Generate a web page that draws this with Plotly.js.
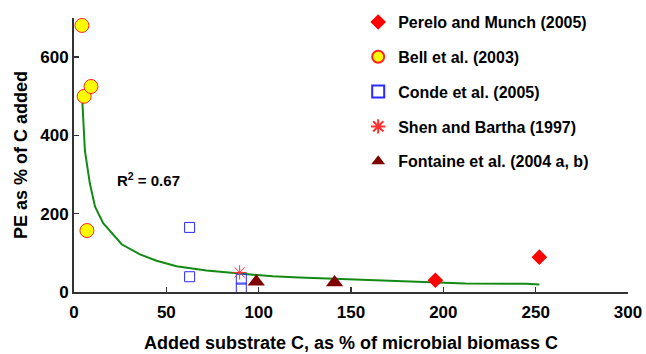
<!DOCTYPE html>
<html>
<head>
<meta charset="utf-8">
<script src="https://cdn.plot.ly/plotly-3.0.1.min.js"></script>
<style>html,body{margin:0;padding:0;background:#fff;}#chart{width:646px;height:354px;}</style>
</head>
<body>
<div id="chart"></div>
<script>
// Data
const pereloX = [195.7, 252];
const pereloY = [30, 89];
const bellX = [4.3, 5.5, 9.2, 7.0];
const bellY = [681, 500, 525, 157];
const condeX = [62.6, 62.6, 90.6, 90.6];
const condeY = [165, 39, 33, 10];
const shenX = [89.7];
const shenY = [50];
const fontaineX = [98.7, 141.1];
const fontaineY = [26, 24];
const fitX = [4.5, 5.9, 8.6, 11.4, 15.8, 25.8, 35.7, 44.7, 55.5, 71.7, 89.7, 107.7, 122, 149, 185, 212, 245, 252];
const fitY = [489, 361, 277, 218, 176, 122, 96, 80, 66, 55, 47, 40, 37, 32, 26, 22, 21, 19];
const xTicks = [0, 50, 100, 150, 200, 250, 300];
const yTicks = [0, 200, 400, 600];

const F = 'Liberation Sans, Arial, Helvetica, sans-serif';

const traces = [
  {x: fitX, y: fitY, mode: 'lines', line: {color: '#138a13', width: 2}, showlegend: false, hoverinfo: 'skip'},
  {x: pereloX, y: pereloY, mode: 'markers', name: 'Perelo and Munch (2005)', legendgroup: 'a',
   marker: {symbol: 'diamond', size: 12, color: '#ff0000'}},
  {x: bellX, y: bellY, mode: 'markers', name: 'Bell et al. (2003)', legendgroup: 'b',
   marker: {symbol: 'circle', size: 14, color: '#ffff00', line: {color: '#ff2020', width: 1}}},
  {x: condeX, y: condeY, mode: 'markers', name: 'Conde et al. (2005)', legendgroup: 'c',
   marker: {symbol: 'square-open', size: 10, color: '#2a2aff', line: {width: 1}}},
  {x: shenX, y: shenY, mode: 'markers', name: 'Shen and Bartha (1997)', legendgroup: 'd',
   marker: {symbol: 'asterisk-open', size: 12, color: '#ff3030', line: {color: '#ff3030', width: 1}}},
  {x: fontaineX, y: fontaineY, mode: 'markers', name: 'Fontaine et al. (2004 a, b)', legendgroup: 'e',
   marker: {symbol: 'triangle-up', size: 15, color: '#800000'}}
];

const layout = {
  width: 646, height: 354,
  margin: {l: 74, r: 18, t: 18, b: 62, autoexpand: false},
  paper_bgcolor: '#fff', plot_bgcolor: '#fff',
  font: {family: F, size: 17, color: '#000', weight: 'bold'},
  showlegend: true,
  legend: {x: 0.513, y: 1.047, xanchor: 'left', yanchor: 'top',
           bgcolor: 'rgba(0,0,0,0)',
           font: {family: F, size: 16, weight: 'bold'}, tracegroupgap: 11, itemwidth: 30,
           itemsizing: 'constant'},
  xaxis: {range: [0, 300], tickvals: xTicks, ticks: 'inside', ticklen: 5, tickwidth: 1.5, tickcolor: '#333',
          showline: true, linecolor: '#333', linewidth: 2, showgrid: false, zeroline: false,
          tickfont: {family: F, size: 17, weight: 'bold'}, ticklabelstandoff: 4,
          title: {text: 'Added substrate C, as % of microbial biomass C', font: {family: F, size: 18, weight: 'bold'}, standoff: 15}},
  yaxis: {range: [0, 700], tickvals: yTicks, ticks: 'inside', ticklen: 5, tickwidth: 1.5, tickcolor: '#333',
          showline: true, linecolor: '#333', linewidth: 2, showgrid: false, zeroline: false,
          tickfont: {family: F, size: 17, weight: 'bold'},
          title: {text: 'PE as % of C added', font: {family: F, size: 18, weight: 'bold'}, standoff: 8}},
  annotations: [{x: 40.6, y: 287, xref: 'x', yref: 'y', text: 'R<sup>2</sup> = 0.67', showarrow: false,
                 font: {family: F, size: 15, weight: 'bold'}}]
};

Plotly.newPlot('chart', traces, layout, {displayModeBar: false, staticPlot: true});
</script>
</body>
</html>
